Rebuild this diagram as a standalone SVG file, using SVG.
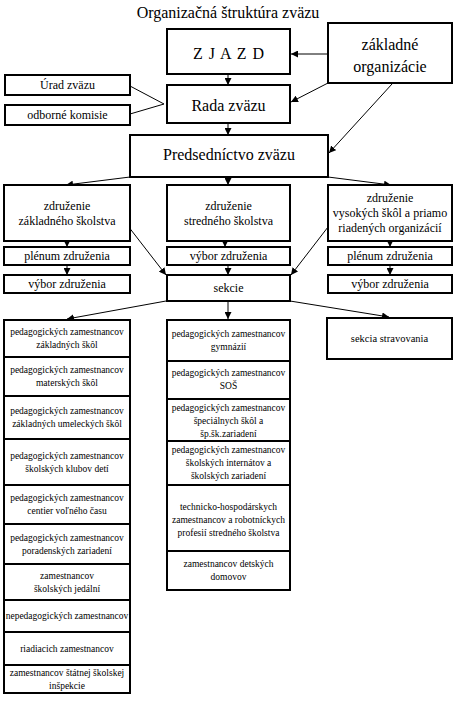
<svg xmlns="http://www.w3.org/2000/svg" width="457" height="701" viewBox="0 0 457 701">
<style>
.b{fill:#fff;stroke:#000;stroke-width:2}
text{font-family:'Liberation Serif','Times New Roman','DejaVu Serif',serif;text-anchor:middle;fill:#000}
.L{font-size:16px}
.M{font-size:12px}
.S{font-size:9.5px}
.R{font-size:10.5px}
.c line{stroke:#000;stroke-width:1}
.c .a{marker-end:url(#ah)}
</style>
<defs>
<marker id="ah" markerUnits="userSpaceOnUse" viewBox="0 0 10 10" refX="10" refY="5" markerWidth="7" markerHeight="7" orient="auto">
<path d="M0,0 L10,5 L0,10 z" fill="#000"/>
</marker>
</defs>
<rect width="457" height="701" fill="#fff"/>
<text class="L" x="228" y="18" font-family="Liberation Serif, serif">Organizačná štruktúra zväzu</text>

<g class="c" id="connectors">
<line class="a" x1="328" y1="54" x2="291" y2="54"/>
<line class="a" x1="228" y1="74" x2="228" y2="85"/>
<line class="a" x1="328" y1="83" x2="291" y2="102"/>
<line class="a" x1="392" y1="84" x2="329" y2="153"/>
<line class="a" x1="228" y1="123" x2="228" y2="135"/>
<line x1="130" y1="86" x2="164" y2="104"/>
<line x1="130" y1="114" x2="164" y2="104"/>
<line class="a" x1="130" y1="177" x2="66" y2="185"/>
<line class="a" x1="228" y1="177" x2="228" y2="185"/>
<line class="a" x1="328" y1="177" x2="391" y2="185"/>
<line class="a" x1="67" y1="241" x2="67" y2="247"/>
<line class="a" x1="67" y1="265" x2="67" y2="275"/>
<line class="a" x1="128" y1="226" x2="166" y2="275"/>
<line class="a" x1="225" y1="227" x2="225" y2="247"/>
<line class="a" x1="228" y1="265" x2="228" y2="275"/>
<line class="a" x1="328" y1="227" x2="291" y2="275"/>
<line class="a" x1="390" y1="241" x2="390" y2="247"/>
<line class="a" x1="390" y1="265" x2="390" y2="275"/>
<line class="a" x1="166" y1="301" x2="67" y2="319"/>
<line class="a" x1="228" y1="301" x2="228" y2="319"/>
<line class="a" x1="290" y1="301" x2="389" y2="317"/>
</g>

<g id="zjazd"><rect class="b" x="167" y="29" width="123" height="45"/><text class="L" x="229" y="59" letter-spacing="1">Z J A Z D</text></g>
<g id="zakladne"><rect class="b" x="328" y="23" width="124" height="60"/><text class="L" x="390" y="50">základné</text><text class="L" x="390" y="72">organizácie</text></g>
<g id="urad"><rect class="b" x="5" y="75" width="125" height="20"/><text class="M" x="67.5" y="89">Úrad zväzu</text></g>
<g id="komisie"><rect class="b" x="5" y="105" width="125" height="20"/><text class="M" x="67.5" y="119">odborné komisie</text></g>
<g id="rada"><rect class="b" x="167" y="85" width="123" height="38"/><text class="L" x="228.5" y="111">Rada zväzu</text></g>
<g id="predsednictvo"><rect class="b" x="130" y="135" width="198" height="42"/><text class="L" x="229" y="160">Predsedníctvo zväzu</text></g>

<g id="zdr-zakl"><rect class="b" x="4" y="185" width="126" height="56"/><text class="M" x="67" y="209.5">združenie</text><text class="M" x="67" y="224.5">základného školstva</text></g>
<g id="zdr-str"><rect class="b" x="167" y="185" width="123" height="56"/><text class="M" x="228.5" y="209.5">združenie</text><text class="M" x="228.5" y="224.5">stredného školstva</text></g>
<g id="zdr-vys"><rect class="b" x="328" y="185" width="124" height="56"/><text class="M" x="390" y="202">združenie</text><text class="M" x="390" y="217">vysokých škôl a priamo</text><text class="M" x="390" y="232">riadených organizácií</text></g>

<g id="plenum-l"><rect class="b" x="4" y="247" width="126" height="18"/><text class="M" x="67" y="260">plénum združenia</text></g>
<g id="vybor-m"><rect class="b" x="167" y="247" width="123" height="18"/><text class="M" x="228.5" y="260">výbor združenia</text></g>
<g id="plenum-r"><rect class="b" x="328" y="247" width="124" height="18"/><text class="M" x="390" y="260">plénum združenia</text></g>

<g id="vybor-l"><rect class="b" x="4" y="275" width="126" height="18"/><text class="M" x="67" y="288">výbor združenia</text></g>
<g id="sekcie"><rect class="b" x="167" y="275" width="123" height="26"/><text class="M" x="228.5" y="292">sekcie</text></g>
<g id="vybor-r"><rect class="b" x="328" y="275" width="124" height="18"/><text class="M" x="390" y="288">výbor združenia</text></g>

<g id="stravovania"><rect class="b" x="327" y="318" width="125" height="41"/><text class="R" x="389.5" y="342">sekcia stravovania</text></g>

<g id="l1"><rect class="b" x="4" y="320" width="126" height="37"/><text class="S" x="67" y="335">pedagogických zamestnancov</text><text class="S" x="67" y="348">základných škôl</text></g>
<g id="l2"><rect class="b" x="4" y="357" width="126" height="39"/><text class="S" x="67" y="373">pedagogických zamestnancov</text><text class="S" x="67" y="386">materských škôl</text></g>
<g id="l3"><rect class="b" x="4" y="396" width="126" height="43"/><text class="S" x="67" y="414">pedagogických zamestnancov</text><text class="S" x="67" y="427">základných umeleckých škôl</text></g>
<g id="l4"><rect class="b" x="4" y="439" width="126" height="46"/><text class="S" x="67" y="459">pedagogických zamestnancov</text><text class="S" x="67" y="472">školských klubov detí</text></g>
<g id="l5"><rect class="b" x="4" y="485" width="126" height="39"/><text class="S" x="67" y="501">pedagogických zamestnancov</text><text class="S" x="67" y="514">centier voľného času</text></g>
<g id="l6"><rect class="b" x="4" y="524" width="126" height="40"/><text class="S" x="67" y="541">pedagogických zamestnancov</text><text class="S" x="67" y="554">poradenských zariadení</text></g>
<g id="l7"><rect class="b" x="4" y="564" width="126" height="36"/><text class="S" x="67" y="579">zamestnancov</text><text class="S" x="67" y="592">školských jedální</text></g>
<g id="l8"><rect class="b" x="4" y="600" width="126" height="32"/><text class="S" x="67" y="619">nepedagogických zamestnancov</text></g>
<g id="l9"><rect class="b" x="4" y="632" width="126" height="33"/><text class="S" x="67" y="652">riadiacich zamestnancov</text></g>
<g id="l10"><rect class="b" x="4" y="665" width="126" height="28"/><text class="S" x="67" y="676">zamestnancov štátnej školskej</text><text class="S" x="67" y="689">inšpekcie</text></g>

<g id="m1"><rect class="b" x="167" y="320" width="123" height="41"/><text class="S" x="228.5" y="337">pedagogických zamestnancov</text><text class="S" x="228.5" y="350">gymnázií</text></g>
<g id="m2"><rect class="b" x="167" y="361" width="123" height="38"/><text class="S" x="228.5" y="376">pedagogických zamestnancov</text><text class="S" x="228.5" y="389">SOŠ</text></g>
<g id="m3"><rect class="b" x="167" y="399" width="123" height="42"/><text class="S" x="228.5" y="411">pedagogických zamestnancov</text><text class="S" x="228.5" y="424">špeciálnych škôl a</text><text class="S" x="228.5" y="437">šp.šk.zariadení</text></g>
<g id="m4"><rect class="b" x="167" y="441" width="123" height="44"/><text class="S" x="228.5" y="453">pedagogických zamestnancov</text><text class="S" x="228.5" y="466">školských internátov a</text><text class="S" x="228.5" y="479">školských zariadení</text></g>
<g id="m5"><rect class="b" x="167" y="485" width="123" height="66"/><text class="S" x="228.5" y="510">technicko-hospodárskych</text><text class="S" x="228.5" y="523">zamestnancov a robotníckych</text><text class="S" x="228.5" y="536">profesií stredného školstva</text></g>
<g id="m6"><rect class="b" x="167" y="551" width="123" height="39"/><text class="S" x="228.5" y="567">zamestnancov detských</text><text class="S" x="228.5" y="580">domovov</text></g>
</svg>
